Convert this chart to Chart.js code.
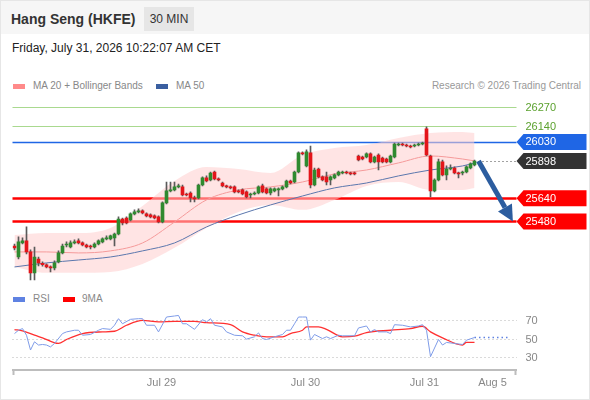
<!DOCTYPE html>
<html>
<head>
<meta charset="utf-8">
<script src="https://cdn.jsdelivr.net/npm/chart.js@4.4.1/dist/chart.umd.min.js"></script>
<style>
  html, body { margin: 0; padding: 0; background: #fff; }
  body { width: 590px; height: 400px; position: relative; overflow: hidden; font-family: "Liberation Sans", Arial, sans-serif; }
  .frame { position: absolute; left: 0; top: 0; width: 588px; height: 398px; border: 1px solid #e6e6e6; pointer-events: none; z-index: 5; }
  .head { position: absolute; left: 0; top: 0; width: 590px; height: 34px; background: #f6f6f6; }
  .title { position: absolute; left: 11px; top: 11px; font-size: 14px; line-height: 16px; font-weight: bold; color: #333; }
  .badge { position: absolute; left: 144px; top: 7px; width: 50px; height: 24px; background: #e6e6e6; font-size: 12px; line-height: 24px; text-align: center; color: #333; }
  .date { position: absolute; left: 12px; top: 41px; font-size: 12px; line-height: 14px; color: #222; }
  .leg { position: absolute; font-size: 10px; line-height: 12px; color: #888; }
  .sw { position: absolute; width: 12px; height: 5px; }
  canvas { position: absolute; left: 0; }
</style>
</head>
<body>
<div class="head"></div>
<div class="title">Hang Seng (HKFE)</div>
<div class="badge">30 MIN</div>
<div class="date">Friday, July 31, 2026 10:22:07 AM CET</div>

<div class="sw" style="left:13px; top:84px; background:#ff8a8a;"></div>
<div class="leg" style="left:33px; top:80px;">MA 20 + Bollinger Bands</div>
<div class="sw" style="left:156px; top:84px; background:#3a5fa0;"></div>
<div class="leg" style="left:176px; top:80px;">MA 50</div>
<div class="leg" style="right:9px; top:80px; color:#999;">Research © 2026 Trading Central</div>

<canvas id="main" width="590" height="190" style="top:95px;"></canvas>

<div class="sw" style="left:13px; top:297px; background:#5f82e2;"></div>
<div class="leg" style="left:33px; top:293px;">RSI</div>
<div class="sw" style="left:63px; top:297px; background:#ff0000;"></div>
<div class="leg" style="left:82px; top:293px;">9MA</div>

<canvas id="rsi" width="590" height="110" style="top:290px;"></canvas>
<div class="frame"></div>

<script>
// candles, 30 min bars, oldest first
const opens = [
  25310, 25234, 25331, 25345, 25269, 25124, 25220, 25190, 25179, 25165,
  25158, 25200, 25262, 25317, 25303, 25331, 25345, 25331, 25317, 25310,
  25303, 25324, 25338, 25359, 25359, 25366, 25393, 25497, 25504, 25490,
  25532, 25546, 25553, 25532, 25525, 25518, 25511, 25476, 25608, 25691,
  25698, 25719, 25719, 25670, 25677, 25643, 25643, 25732, 25781, 25767,
  25822, 25774, 25746, 25726, 25719, 25719, 25691, 25698, 25684, 25663,
  25670, 25677, 25726, 25705, 25677, 25691, 25698, 25705, 25719, 25760,
  25753, 25822, 25954, 25864, 25954, 25732, 25843, 25788, 25788, 25767,
  25781, 25802, 25815, 25822, 25815, 25815, 25933, 25926, 25926, 25947,
  25892, 25940, 25919, 25912, 25892, 25926, 26009, 26016, 26009, 26002,
  26002, 26009, 26016, 26120, 25933, 25691, 25767, 25892, 25802, 25843,
  25850, 25815, 25815, 25822, 25850, 25871
];
const highs = [
  25324, 25373, 25366, 25442, 25283, 25303, 25234, 25200, 25186, 25172,
  25207, 25276, 25324, 25338, 25345, 25352, 25359, 25338, 25324, 25317,
  25331, 25352, 25366, 25380, 25386, 25400, 25511, 25504, 25511, 25539,
  25560, 25567, 25560, 25539, 25532, 25525, 25518, 25615, 25753, 25753,
  25753, 25739, 25732, 25677, 25684, 25656, 25739, 25788, 25795, 25822,
  25829, 25781, 25753, 25732, 25726, 25726, 25698, 25705, 25691, 25677,
  25684, 25726, 25739, 25712, 25712, 25712, 25712, 25726, 25767, 25767,
  25829, 25961, 25961, 25975, 26002, 25850, 25850, 25795, 25822, 25795,
  25809, 25829, 25829, 25829, 25822, 25822, 25940, 25933, 25954, 25954,
  25933, 25947, 25926, 25919, 25940, 26023, 26023, 26023, 26016, 26009,
  26016, 26023, 26030, 26134, 25940, 25774, 25912, 25905, 25864, 25871,
  25857, 25822, 25829, 25864, 25885, 25905
];
const lows = [
  25283, 25220, 25324, 25255, 25075, 25075, 25172, 25170, 25158, 25130,
  25144, 25193, 25255, 25303, 25297, 25324, 25324, 25310, 25297, 25290,
  25297, 25317, 25331, 25352, 25352, 25310, 25386, 25456, 25463, 25483,
  25525, 25539, 25532, 25511, 25504, 25497, 25470, 25470, 25601, 25684,
  25691, 25712, 25656, 25656, 25615, 25615, 25636, 25726, 25753, 25760,
  25767, 25760, 25719, 25712, 25705, 25677, 25677, 25663, 25643, 25643,
  25663, 25670, 25677, 25670, 25663, 25684, 25656, 25698, 25712, 25739,
  25746, 25815, 25940, 25857, 25712, 25726, 25781, 25760, 25732, 25732,
  25774, 25795, 25809, 25809, 25802, 25802, 25898, 25905, 25919, 25885,
  25885, 25836, 25885, 25885, 25885, 25919, 26002, 26002, 25995, 25988,
  25995, 26002, 26009, 25933, 25649, 25684, 25760, 25795, 25767, 25836,
  25809, 25781, 25802, 25815, 25843, 25864
];
const closes = [
  25297, 25338, 25345, 25269, 25124, 25234, 25193, 25180, 25165, 25158,
  25193, 25262, 25310, 25324, 25331, 25338, 25331, 25317, 25303, 25303,
  25324, 25345, 25359, 25366, 25380, 25393, 25497, 25470, 25470, 25532,
  25546, 25553, 25539, 25518, 25511, 25504, 25476, 25608, 25691, 25698,
  25719, 25726, 25663, 25663, 25643, 25636, 25732, 25781, 25760, 25815,
  25774, 25767, 25726, 25719, 25712, 25684, 25684, 25670, 25649, 25670,
  25677, 25719, 25684, 25677, 25705, 25705, 25705, 25719, 25760, 25746,
  25822, 25954, 25947, 25961, 25732, 25836, 25788, 25767, 25753, 25788,
  25802, 25822, 25822, 25815, 25809, 25809, 25905, 25912, 25947, 25892,
  25926, 25892, 25892, 25892, 25933, 26016, 26016, 26009, 26002, 25995,
  26009, 26016, 26023, 25940, 25691, 25767, 25892, 25802, 25843, 25850,
  25815, 25809, 25822, 25857, 25878, 25898
];

// moving averages and bands, read at every 8th bar
const bandIdx   = [0, 8, 16, 24, 32, 40, 48, 56, 64, 72, 80, 88, 96, 104, 112, 115];
const bandUpper = [25386, 25400, 25400, 25435, 25587, 25760, 25857, 25843, 25815, 25940, 25988, 26009, 26058, 26092, 26099, 26092];
const bandLower = [25165, 25124, 25124, 25130, 25186, 25297, 25435, 25546, 25594, 25560, 25629, 25726, 25753, 25698, 25698, 25712];
const ma20      = [25269, 25269, 25262, 25276, 25331, 25476, 25629, 25698, 25719, 25753, 25809, 25836, 25885, 25933, 25912, 25899];
const ma50      = [25165, 25193, 25213, 25234, 25276, 25331, 25442, 25525, 25594, 25656, 25712, 25746, 25795, 25836, 25864, 25885];

// support / resistance levels and target
const resistances = [26270, 26140];
const pivot = 26030;
const supports = [25640, 25480];
const target = 25480;

// RSI panel
const rsiIdx = [0, 1, 2, 3, 4, 5, 6, 7, 8, 9, 10, 12, 13, 15, 16, 17, 19, 21, 22, 24,
  25, 26, 27, 29, 31, 32, 33, 35, 36, 38, 40, 41, 42, 43, 45, 47, 48, 49, 50, 52,
  53, 55, 57, 58, 60, 61, 62, 63, 65, 67, 68, 69, 70, 71, 72, 73, 74, 75, 77, 78,
  79, 81, 82, 85, 86, 88, 89, 90, 91, 93, 94, 95, 97, 99, 101, 102, 103, 104, 106, 107,
  108, 110, 112, 113, 115];
const rsiVals = [56.4, 60, 61.8, 54.6, 38.6, 47.5, 44, 44.6, 44, 42, 45.7, 56.4, 58.2, 60, 60, 54.6, 55.4, 60, 61.8, 61,
  65.4, 72.5, 67, 71.8, 72.5, 72.5, 65.4, 65.4, 58.2, 74.3, 75.4, 76, 67, 67, 61, 71.4, 69, 72.5, 65.4, 63.6,
  58.2, 54.6, 54, 50.4, 52.9, 57.1, 51, 50, 52.9, 55.4, 60, 60, 67, 74.3, 74.3, 74.3, 49.3, 55.4, 51, 52.9,
  51, 54.6, 54, 54, 62.5, 64.6, 58.2, 60.7, 58.2, 58.2, 56.4, 66, 65.4, 63.6, 64.6, 66, 60, 31.4, 50, 44,
  46.8, 45.7, 44.6, 49.3, 52.1];
const maIdx  = [0, 2, 5, 7, 11, 13, 17, 22, 25, 28, 32, 36, 40, 45, 48, 54, 57, 60, 63, 67,
  69, 72, 73, 76, 78, 82, 85, 88, 94, 99, 102, 104, 107, 112, 113, 115];
const maVals = [60.7, 59.3, 54.6, 51.8, 45.7, 50, 56.4, 58.2, 58.9, 65.4, 70.7, 69, 69.6, 69.6, 68.2, 66, 58.2, 54.6, 52.9, 52.9,
  56.4, 60, 63.6, 63.6, 61, 52.9, 53.6, 57.5, 60, 61.8, 64.3, 58.2, 51.8, 44, 46.8, 46.8];
const rsiTicks = [30, 50, 70];

// time axis
const tickIdx = [36.75, 72.75, 102.5, 119.5];
const tickLabels = ['Jul 29', 'Jul 30', 'Jul 31', 'Aug 5'];

const FONT = '"Liberation Sans", Arial, sans-serif';
Chart.defaults.font.family = FONT;

const X_MIN = -0.5;
const X_MAX = 125.5;
const ARROW_END = 124.6;
const RSI_EXT_END = 123.5;

const GREEN = '#2f8a2f';
const RED = '#e3151a';

const lastIdx = closes.length - 1;
const lastClose = closes[lastIdx];

function pts(xs, ys) {
    return xs.map((x, i) => ({ x: x, y: ys[i] }));
}

// pentagon tag that sits to the right of a level line
function tag(ctx, x, y, text, fill) {
    ctx.beginPath();
    ctx.moveTo(x, y);
    ctx.lineTo(x + 7, y - 8);
    ctx.lineTo(x + 70, y - 8);
    ctx.lineTo(x + 70, y + 8);
    ctx.lineTo(x + 7, y + 8);
    ctx.closePath();
    ctx.fillStyle = fill;
    ctx.fill();
    ctx.fillStyle = '#fff';
    ctx.fillText(text, x + 9, y + 0.5);
}

const levelsPlugin = {
    id: 'levels',
    beforeDatasetsDraw(chart) {
        const { ctx, chartArea, scales: { y } } = chart;
        ctx.save();
        const line = (v, color, w) => {
            const py = Math.round(y.getPixelForValue(v)) + 0.5;
            ctx.beginPath();
            ctx.moveTo(chartArea.left, py);
            ctx.lineTo(chartArea.right, py);
            ctx.strokeStyle = color;
            ctx.lineWidth = w;
            ctx.stroke();
        };
        resistances.forEach(v => line(v, '#a9d98f', 1));
        line(pivot, '#1f66e5', 1.5);
        supports.forEach(v => line(v, '#ff0000', 2.5));
        ctx.restore();
    },
    afterDatasetsDraw(chart) {
        const { ctx, chartArea, scales: { x, y } } = chart;
        ctx.save();

        // dotted line from the last close
        const ly = Math.round(y.getPixelForValue(lastClose)) + 0.5;
        ctx.beginPath();
        ctx.setLineDash([1, 3]);
        ctx.moveTo(x.getPixelForValue(lastIdx + 1), ly);
        ctx.lineTo(chartArea.right, ly);
        ctx.strokeStyle = '#444';
        ctx.lineWidth = 1;
        ctx.stroke();
        ctx.setLineDash([]);

        // forecast arrow
        const x0 = x.getPixelForValue(lastIdx + 1), y0 = y.getPixelForValue(lastClose);
        const x1 = x.getPixelForValue(ARROW_END), y1 = y.getPixelForValue(target);
        const len = Math.hypot(x1 - x0, y1 - y0);
        const dx = (x1 - x0) / len, dy = (y1 - y0) / len;
        const bx = x1 - dx * 16, by = y1 - dy * 16;
        ctx.strokeStyle = '#2c5d9f';
        ctx.fillStyle = '#2c5d9f';
        ctx.lineWidth = 5;
        ctx.beginPath();
        ctx.moveTo(x0, y0);
        ctx.lineTo(bx, by);
        ctx.stroke();
        ctx.beginPath();
        ctx.moveTo(x1, y1);
        ctx.lineTo(bx - dy * 8, by + dx * 8);
        ctx.lineTo(bx + dy * 8, by - dx * 8);
        ctx.closePath();
        ctx.fill();

        // labels on the right
        ctx.font = '11px ' + FONT;
        ctx.textBaseline = 'middle';
        ctx.textAlign = 'left';
        const tx = chartArea.right;
        resistances.forEach(v => {
            ctx.fillStyle = '#5ba12e';
            ctx.fillText(String(v), tx + 9, y.getPixelForValue(v) + 0.5);
        });
        tag(ctx, tx, y.getPixelForValue(pivot), String(pivot), '#1f66e5');
        tag(ctx, tx, y.getPixelForValue(lastClose), String(lastClose), '#333333');
        supports.forEach(v => tag(ctx, tx, y.getPixelForValue(v), String(v), '#ff0000'));
        ctx.restore();
    }
};

const rsiPlugin = {
    id: 'rsiExtras',
    afterDatasetsDraw(chart) {
        const { ctx, chartArea, scales: { x, y } } = chart;
        ctx.save();
        // dotted extension of the last RSI value
        const lastRsi = rsiVals[rsiVals.length - 1];
        const py = y.getPixelForValue(lastRsi);
        ctx.beginPath();
        ctx.setLineDash([1.5, 3]);
        ctx.moveTo(x.getPixelForValue(rsiIdx[rsiIdx.length - 1]), py);
        ctx.lineTo(x.getPixelForValue(RSI_EXT_END), py);
        ctx.strokeStyle = '#5f82e2';
        ctx.lineWidth = 1.5;
        ctx.stroke();
        ctx.setLineDash([]);
        // small end marks on the time axis
        ctx.strokeStyle = '#bdbdbd';
        ctx.lineWidth = 2;
        [chartArea.left + 1, chartArea.right - 1].forEach(px => {
            ctx.beginPath();
            ctx.moveTo(px, chartArea.bottom);
            ctx.lineTo(px, chartArea.bottom + 5);
            ctx.stroke();
        });
        ctx.restore();
    }
};

document.addEventListener('DOMContentLoaded', function() {
    const idx = closes.map((c, i) => i);
    const candleColors = closes.map((c, i) => c >= opens[i] ? GREEN : RED);

    // Price chart
    new Chart(document.getElementById('main'), {
        type: 'bar',
        data: {
            datasets: [
                {
                    label: 'body',
                    data: idx.map(i => ({ x: i, y: [Math.min(opens[i], closes[i]), Math.max(opens[i], closes[i])] })),
                    backgroundColor: candleColors,
                    barThickness: 3,
                    minBarLength: 1,
                    grouped: false,
                    order: 0
                },
                {
                    label: 'wick',
                    data: idx.map(i => ({ x: i, y: [lows[i], highs[i]] })),
                    backgroundColor: '#5a5a5a',
                    barThickness: 1,
                    grouped: false,
                    order: 1
                },
                {
                    type: 'line',
                    label: 'MA 20',
                    data: pts(bandIdx, ma20),
                    borderColor: '#f59a9a',
                    borderWidth: 1,
                    pointRadius: 0,
                    cubicInterpolationMode: 'monotone',
                    order: 2
                },
                {
                    type: 'line',
                    label: 'MA 50',
                    data: pts(bandIdx, ma50),
                    borderColor: '#5b77ad',
                    borderWidth: 1,
                    pointRadius: 0,
                    cubicInterpolationMode: 'monotone',
                    order: 2
                },
                {
                    type: 'line',
                    label: 'upper',
                    data: pts(bandIdx, bandUpper),
                    borderWidth: 0,
                    pointRadius: 0,
                    backgroundColor: 'rgba(255, 205, 205, 0.55)',
                    fill: '+1',
                    cubicInterpolationMode: 'monotone',
                    order: 3
                },
                {
                    type: 'line',
                    label: 'lower',
                    data: pts(bandIdx, bandLower),
                    borderWidth: 0,
                    pointRadius: 0,
                    fill: false,
                    cubicInterpolationMode: 'monotone',
                    order: 3
                }
            ]
        },
        options: {
            responsive: false,
            animation: false,
            layout: { padding: { left: 12.5, right: 73.5, top: 0, bottom: 0 } },
            plugins: { legend: { display: false }, tooltip: { enabled: false } },
            scales: {
                x: { type: 'linear', min: X_MIN, max: X_MAX, offset: false, display: false },
                y: { min: 25040, max: 26355, display: false }
            }
        },
        plugins: [levelsPlugin]
    });

    // RSI chart
    new Chart(document.getElementById('rsi'), {
        type: 'line',
        data: {
            datasets: [
                {
                    label: 'RSI',
                    data: pts(rsiIdx, rsiVals),
                    borderColor: '#7f9ce8',
                    borderWidth: 1,
                    pointRadius: 0
                },
                {
                    label: '9MA',
                    data: pts(maIdx, maVals),
                    borderColor: '#ff3030',
                    borderWidth: 1.3,
                    pointRadius: 0,
                    cubicInterpolationMode: 'monotone'
                }
            ]
        },
        options: {
            responsive: false,
            animation: false,
            layout: { padding: { left: 12.5, right: 0, top: 10, bottom: 0 } },
            plugins: { legend: { display: false }, tooltip: { enabled: false } },
            scales: {
                x: {
                    type: 'linear', min: X_MIN, max: X_MAX, offset: false,
                    grid: { display: false, drawTicks: false },
                    border: { display: true, color: '#bdbdbd', width: 2 },
                    afterBuildTicks: s => { s.ticks = tickIdx.map(v => ({ value: v })); },
                    afterFit: s => { s.height = 30; },
                    ticks: {
                        autoSkip: false, maxRotation: 0, padding: 6, color: '#888',
                        font: { size: 11 },
                        callback: (v, i) => tickLabels[i]
                    }
                },
                y: {
                    position: 'right', min: 17, max: 92.7,
                    grid: { color: '#b5b5b5', drawTicks: false, lineWidth: 1 },
                    border: { display: false, dash: [1, 3] },
                    afterBuildTicks: s => { s.ticks = rsiTicks.map(v => ({ value: v })); },
                    afterFit: s => { s.width = 73.5; s.paddingTop = 0; s.paddingBottom = 0; },
                    ticks: { padding: 9, color: '#888', font: { size: 11 } }
                }
            }
        },
        plugins: [rsiPlugin]
    });
});
</script>
</body>
</html>
